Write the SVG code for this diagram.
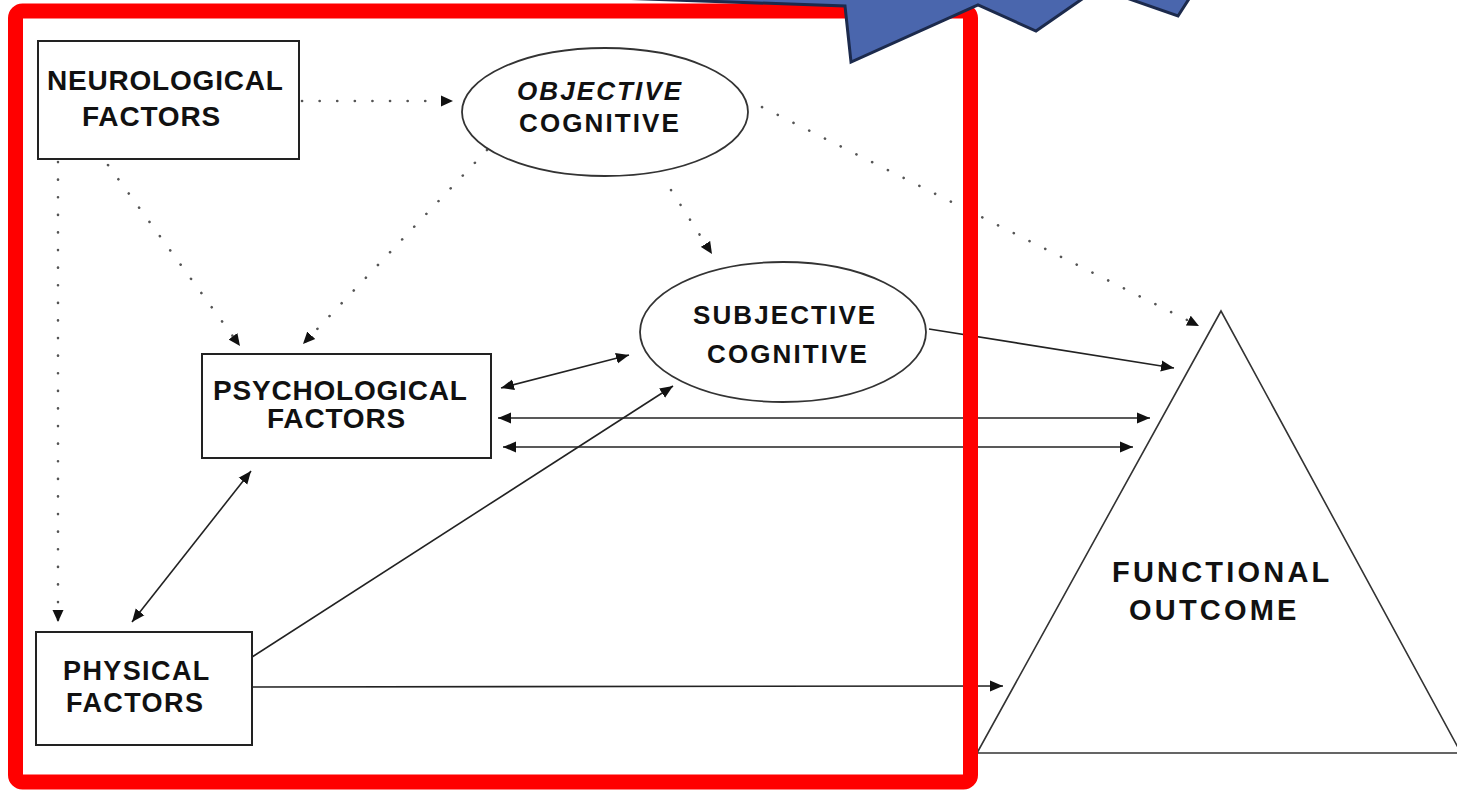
<svg xmlns="http://www.w3.org/2000/svg" width="1457" height="790" viewBox="0 0 1457 790">
  <defs>
    <marker id="head" markerUnits="userSpaceOnUse" markerWidth="14" markerHeight="12" refX="13" refY="6" orient="auto-start-reverse">
      <path d="M0,0.5 L13,6 L0,11.5 z" fill="#111"/>
    </marker>
    <marker id="dotHead" markerUnits="userSpaceOnUse" markerWidth="13" markerHeight="12" refX="12" refY="6" orient="auto">
      <path d="M0,0.5 L12,6 L0,11.5 z" fill="#111"/>
    </marker>
    <style>
      .box { fill: #fff; stroke: #222; stroke-width: 2; }
      .oval { fill: #fff; stroke: #333; stroke-width: 1.8; }
      .tri { fill: #fff; stroke: #333; stroke-width: 1.6; }
      .lbl { font-family: "Liberation Sans", Arial, sans-serif; font-weight: bold; font-size: 28px; fill: #111; letter-spacing: 0.8px; }
      .ell { font-size: 26px; letter-spacing: 2.1px; }
      .phys { font-size: 27px; letter-spacing: 1.4px; }
      .func { font-size: 29px; letter-spacing: 3.2px; }
      .solid { fill: none; stroke: #222; stroke-width: 1.6; }
      .dotted { fill: none; stroke: #555; stroke-width: 2.6; stroke-linecap: round; stroke-dasharray: 0.1 17.5; }
      .frame { fill: none; stroke: #ff0000; stroke-width: 15; }
      .burst { fill: #4a66ad; stroke: #1c2a4c; stroke-width: 3; stroke-linejoin: miter; }
    </style>
  </defs>

  <rect width="1457" height="790" fill="#fff"/>

  <!-- connectors -->
  <g id="connectors">
    <line class="dotted" x1="302" y1="101" x2="453" y2="101" marker-end="url(#dotHead)"/>
    <line class="dotted" x1="108" y1="165" x2="240" y2="346" marker-end="url(#dotHead)"/>
    <line class="dotted" x1="487" y1="150" x2="303" y2="344" marker-end="url(#dotHead)"/>
    <line class="dotted" x1="58" y1="162" x2="58" y2="622" marker-end="url(#dotHead)"/>
    <line class="dotted" x1="671" y1="190" x2="712" y2="254" marker-end="url(#dotHead)"/>
    <line class="dotted" x1="762" y1="107" x2="1199" y2="326" marker-end="url(#dotHead)"/>

    <line class="solid" x1="501" y1="388" x2="629" y2="355" marker-start="url(#head)" marker-end="url(#head)"/>
    <line class="solid" x1="498" y1="418" x2="1150" y2="418" marker-start="url(#head)" marker-end="url(#head)"/>
    <line class="solid" x1="503" y1="447" x2="1133" y2="447" marker-start="url(#head)" marker-end="url(#head)"/>
    <line class="solid" x1="929" y1="329" x2="1174" y2="368" marker-end="url(#head)"/>
    <line class="solid" x1="252" y1="657" x2="673" y2="386" marker-end="url(#head)"/>
    <line class="solid" x1="252" y1="687" x2="1003" y2="686" marker-end="url(#head)"/>
    <line class="solid" x1="251" y1="471" x2="132" y2="622" marker-start="url(#head)" marker-end="url(#head)"/>
  </g>

  <!-- nodes -->
  <g id="neurological">
    <rect class="box" x="38" y="41" width="261" height="118"/>
    <text class="lbl" x="47" y="90">NEUROLOGICAL</text>
    <text class="lbl" x="82" y="126">FACTORS</text>
  </g>

  <g id="objective">
    <ellipse class="oval" cx="605" cy="112" rx="143" ry="64"/>
    <text class="lbl ell" x="517" y="100" font-style="italic">OBJECTIVE</text>
    <text class="lbl ell" x="519" y="132">COGNITIVE</text>
  </g>

  <g id="psychological">
    <rect class="box" x="202" y="354" width="289" height="104"/>
    <text class="lbl" x="213" y="400">PSYCHOLOGICAL</text>
    <text class="lbl" x="267" y="428">FACTORS</text>
  </g>

  <g id="subjective">
    <ellipse class="oval" cx="783" cy="332" rx="143" ry="70"/>
    <text class="lbl ell" x="693" y="324">SUBJECTIVE</text>
    <text class="lbl ell" x="707" y="363">COGNITIVE</text>
  </g>

  <g id="physical">
    <rect class="box" x="36" y="632" width="216" height="113"/>
    <text class="lbl phys" x="63" y="680">PHYSICAL</text>
    <text class="lbl phys" x="66" y="712">FACTORS</text>
  </g>

  <g id="functional">
    <polygon class="tri" points="1221,311 977,753 1461,753"/>
    <text class="lbl func" x="1112" y="582">FUNCTIONAL</text>
    <text class="lbl func" x="1129" y="620">OUTCOME</text>
  </g>

  <!-- highlight frame and burst overlay -->
  <rect class="frame" x="15.5" y="11" width="955" height="771" rx="7"/>
  <polygon class="burst" points="560,-4 845,6 851,62 978,5 1036,31 1098,-12 1178,16 1196,-12"/>
</svg>
